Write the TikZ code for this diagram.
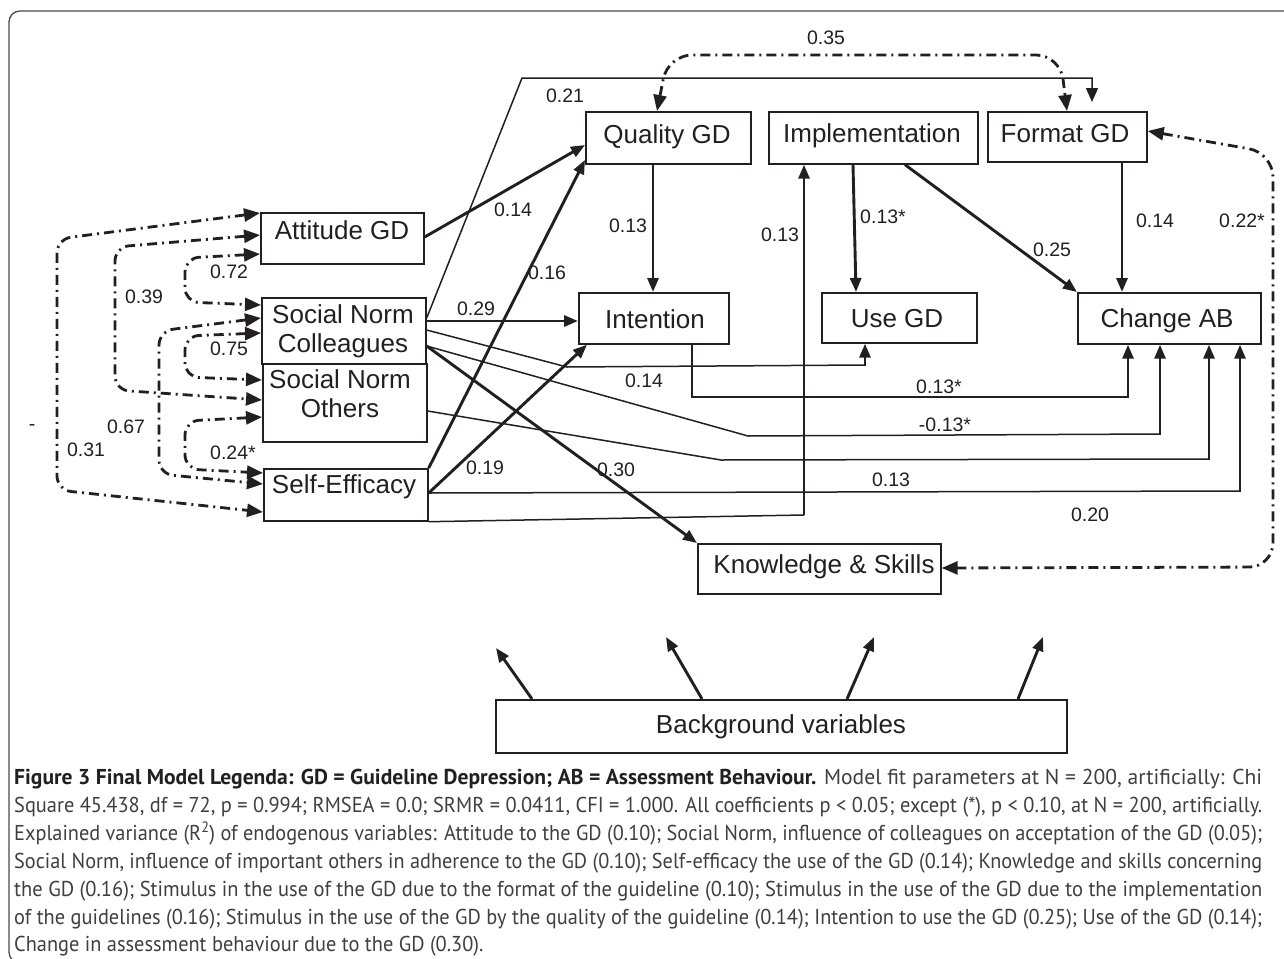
\documentclass[tikz,border=0pt]{standalone}
\usepackage{fontspec}
\usepackage{graphicx}
\setmainfont{Liberation Sans}
\newfontfamily\capfont{PT Sans}
\usetikzlibrary{arrows.meta}
\definecolor{ink}{HTML}{231F20}
\definecolor{capgray}{HTML}{3F3F3F}
\definecolor{framecol}{HTML}{4A4A4A}
\newcommand\bxfont{\fontsize{26}{30}\selectfont}
\newcommand\cffont{\fontsize{19.5}{23}\selectfont}
\newcommand\cpfont{\capfont\fontsize{21.5}{28}\selectfont}
\newsavebox\capbox
\tikzset{
  box/.style={draw=ink, line width=1.7pt, inner sep=0pt, anchor=north west},
  bt/.style={font=\bxfont, text=ink, anchor=base, inner sep=0pt},
  coef/.style={font=\cffont, text=ink, inner sep=0pt},
  thk/.style={draw=ink, line width=2.9pt, -{Triangle[length=14pt,width=11pt]}},
  thn/.style={draw=ink, line width=1.5pt},
  corr/.style={draw=ink, line width=2.8pt, rounded corners=14pt,
    dash pattern=on 10pt off 5pt on 2pt off 5pt,
    {Triangle[length=16pt,width=13pt]}-{Triangle[length=16pt,width=13pt]}},
  captxt/.style={anchor=base west, inner sep=0pt},
}
\begin{document}
\sbox\capbox{\cpfont of the guidelines (0.16); Stimulus in the use of the GD by the quality of the guideline (0.14); Intention to use the GD (0.25); Use of the GD (0.14);}%
\pgfmathsetmacro\capfac{1248/\the\wd\capbox}%
\begin{tikzpicture}[x=1pt,y=-1pt]
\useasboundingbox (0,0) rectangle (1284,958);
\clip (0,0) rectangle (1284,958);
% outer frame
\draw[framecol, line width=1.3pt, rounded corners=11pt] (40,963) -- (9,963) -- (9,11) -- (1310,11);

% boxes
\node[box, minimum width=163pt, minimum height=51pt] (att) at (260,212) {};
\node[box, minimum width=164pt, minimum height=66pt] (snc) at (261,297) {};
\node[box, minimum width=164pt, minimum height=78pt] (sno) at (262,363) {};
\node[box, minimum width=164pt, minimum height=52pt] (se)  at (263,468) {};
\node[box, minimum width=165pt, minimum height=52pt] (qual) at (585,111) {};
\node[box, minimum width=209pt, minimum height=52pt] (impl) at (768,111) {};
\node[box, minimum width=159pt, minimum height=50pt] (fmt) at (987,111) {};
\node[box, minimum width=150pt, minimum height=51pt] (int) at (578,292) {};
\node[box, minimum width=155pt, minimum height=50pt] (use) at (821,292) {};
\node[box, minimum width=183pt, minimum height=51pt] (chg) at (1077,292) {};
\node[box, minimum width=243pt, minimum height=50pt] (ks) at (697,543) {};
\node[box, minimum width=571pt, minimum height=53pt] (bg) at (495,699) {};

% box texts
\node[bt] (tatt) at (342,239) {Attitude GD};
\node[bt] (tsnc1) at (343,323) {Social Norm};
\node[bt] (tsnc2) at (343,352) {Colleagues};
\node[bt] (tsno1) at (340,388) {Social Norm};
\node[bt] (tsno2) at (340,417) {Others};
\node[bt] (tse) at (344,493) {Self-Efficacy};
\node[bt] (tqual) at (667,143) {Quality GD};
\node[bt] (timpl) at (872,142) {Implementation};
\node[bt] (tfmt) at (1065,142) {Format GD};
\node[bt] (tint) at (655,328) {Intention};
\node[bt] (tuse) at (897,327) {Use GD};
\node[bt] (tchg) at (1167,327) {Change AB};
\node[bt] (tks) at (824,573) {Knowledge \& Skills};
\node[bt] (tbg) at (781,733) {Background variables};

% correlations (dash-dot, two-headed)
\draw[corr] (att.west |- 0,213) -- (57,239) -- (57,490) -- (se.west |- 0,512);
\draw[corr] (att.west |- 0,235) -- (115,247) -- (115,390) -- (sno.west |- 0,400);
\draw[corr] (att.west |- 0,254) -- (185,258) -- (185,302) -- (snc.west |- 0,305);
\draw[corr] (snc.west |- 0,318) -- (159,331) -- (159,474) -- (se.west |- 0,484);
\draw[corr] (snc.west |- 0,333) -- (185,336) -- (185,377) -- (sno.west |- 0,380);
\draw[corr] (sno.west |- 0,417) -- (185,421) -- (185,469) -- (se.west |- 0,473);
\draw[corr, rounded corners=24pt] (qual.north -| 657,0) -- (668,55) -- (1060,55) -- (fmt.north -| 1067,0);
\draw[corr, rounded corners=24pt] (fmt.east |- 0,131) -- (1273,153) -- (1273,567) -- (ks.east |- 0,568);

% thick direct paths
\draw[thk] (att.east |- 0,237) -- (qual.west |- 0,145);
\draw[thk] (se.north east) -- (qual.west |- 0,160);
\draw[thk] (se.east |- 0,493) -- ([xshift=9pt]int.south west);
\draw[thk] (snc.east |- 0,321) -- (int.west |- 0,321);
\draw[thk] (snc.east |- 0,346) -- (ks.north west);
\draw[thk] (qual.south -| 653,0) -- (int.north -| 653,0);
\draw[thk] (impl.south -| 853,0) -- (use.north -| 856,0);
\draw[thk] (impl.south -| 905,0) -- (chg.north west);
\draw[thk] (fmt.south -| 1122,0) -- (chg.north -| 1122,0);

% 0.21 path to Format GD
\draw[thn, -{Triangle[length=14pt,width=12pt]}, shorten >=9pt] (snc.east |- 0,318) -- (522,78) -- (1092,78) -- (fmt.north -| 1092,0);

% Self-Efficacy -> Implementation
\draw[thn] (se.south east) -- (804,515);
\draw[thk] (804,515) -- (impl.south -| 804,0);

% SN Colleagues -> Use GD
\draw[thn] (snc.east |- 0,330) -- (567,367) -- (865,365);
\draw[thk] (865,366) -- (use.south -| 865,0);

% paths into Change AB
\draw[thn] (int.south -| 692,0) -- (692,397) -- (1128,397);
\draw[thk] (1128,398) -- (chg.south -| 1128,0);
\draw[thn] (snc.east |- 0,346) -- (748,436) -- (1160,434);
\draw[thk] (1160,435) -- (chg.south -| 1160,0);
\draw[thn] (sno.east |- 0,411) -- (721,460) -- (1209,459);
\draw[thk] (1209,460) -- (chg.south -| 1209,0);
\draw[thn] (se.east |- 0,493) -- (1240,491);
\draw[thk] (1240,492) -- (chg.south -| 1240,0);

% background arrows
\coordinate (b1) at (496,648);
\coordinate (b2) at (666,637);
\coordinate (b3) at (874,637);
\coordinate (b4) at (1043,637);
\draw[thk] (bg.north -| 532,0) -- (b1);
\draw[thk] (bg.north -| 702,0) -- (b2);
\draw[thk] (bg.north -| 847,0) -- (b3);
\draw[thk] (bg.north -| 1018,0) -- (b4);

% coefficients
\node[coef] (c35) at (826,38) {0.35};
\node[coef] (c21) at (565,96) {0.21};
\node[coef] (c14a) at (513,210) {0.14};
\node[coef] (c13a) at (628,226) {0.13};
\node[coef] (c13b) at (780,235) {0.13};
\node[coef] (c13c) at (883,217) {0.13*};
\node[coef] (c25) at (1052,250) {0.25};
\node[coef] (c14b) at (1155,221) {0.14};
\node[coef] (c22) at (1242,221) {0.22*};
\node[coef] (c16) at (547,273) {0.16};
\node[coef] (c29) at (476,309) {0.29};
\node[coef] (c14c) at (644,381) {0.14};
\node[coef] (c13d) at (939,387) {0.13*};
\node[coef] (c13e) at (945,425) {-0.13*};
\node[coef] (c19) at (485,468) {0.19};
\node[coef] (c30) at (616,470) {0.30};
\node[coef] (c13f) at (891,480) {0.13};
\node[coef] (c20) at (1090,515) {0.20};
\node[coef] (c72) at (229,272) {0.72};
\node[coef] (c39) at (144,297) {0.39};
\node[coef] (c75) at (229,349) {0.75};
\node[coef] (c67) at (126,427) {0.67};
\node[coef] (cdash) at (32,428) {-};
\node[coef] (c31) at (86,450) {0.31};
\node[coef] (c24) at (233,453) {0.24*};

% caption
\node[captxt] (cap1) at (14,784) {\resizebox{1248pt}{\height}{\cpfont{\color{ink}\bfseries Figure 3 Final Model Legenda: GD = Guideline Depression; AB = Assessment Behaviour.}\space{\color{capgray}Model fit parameters at N = 200, artificially: Chi}}};
\node[captxt] (cap2) at (14,812) {\resizebox{1248pt}{\height}{\cpfont\color{capgray}Square 45.438, df = 72, p = 0.994; RMSEA = 0.0; SRMR = 0.0411, CFI = 1.000. All coefficients p < 0.05; except (*), p < 0.10, at N = 200, artificially.}};
\node[captxt] (cap3) at (14,840) {\resizebox{1248pt}{\height}{\cpfont\color{capgray}Explained variance (R\textsuperscript{2}) of endogenous variables: Attitude to the GD (0.10); Social Norm, influence of colleagues on acceptation of the GD (0.05);}};
\node[captxt] (cap4) at (14,868) {\resizebox{1248pt}{\height}{\cpfont\color{capgray}Social Norm, influence of important others in adherence to the GD (0.10); Self-efficacy the use of the GD (0.14); Knowledge and skills concerning}};
\node[captxt] (cap5) at (14,896) {\resizebox{1248pt}{\height}{\cpfont\color{capgray}the GD (0.16); Stimulus in the use of the GD due to the format of the guideline (0.10); Stimulus in the use of the GD due to the implementation}};
\node[captxt] (cap6) at (14,924) {\resizebox{1248pt}{\height}{\cpfont\color{capgray}of the guidelines (0.16); Stimulus in the use of the GD by the quality of the guideline (0.14); Intention to use the GD (0.25); Use of the GD (0.14);}};
\node[captxt] (cap7) at (14,951) {\scalebox{\capfac}[1]{\cpfont\color{capgray}Change in assessment behaviour due to the GD (0.30).}};
\end{tikzpicture}
\end{document}
